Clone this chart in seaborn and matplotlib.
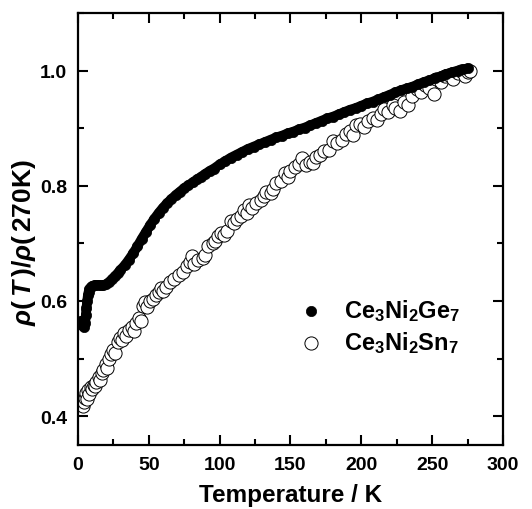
import seaborn as sns
import matplotlib.pyplot as plt
import pandas as pd
from matplotlib.ticker import MultipleLocator

ge_T = [2, 3, 4, 5, 5.5, 6, 6.5, 7, 7.5, 8, 9, 10, 12, 14, 16, 18, 20, 22, 24, 26,
        28, 30, 33, 36, 39, 42, 45, 48, 51, 54, 57, 60, 63, 66, 69, 72, 75, 78, 81,
        84, 87, 90, 93, 96, 100, 104, 108, 112, 116, 120, 124, 128, 132, 136, 140,
        144, 148, 152, 156, 160, 164, 168, 172, 176, 180, 184, 188, 192, 196, 200,
        204, 208, 212, 216, 220, 224, 228, 232, 236, 240, 244, 248, 252, 256, 260,
        264, 268, 272, 275]
ge_rho = [0.565, 0.558, 0.555, 0.562, 0.575, 0.588, 0.600, 0.610, 0.616, 0.620, 0.624,
          0.626, 0.628, 0.628, 0.627, 0.627, 0.629, 0.633, 0.638, 0.643, 0.648, 0.654,
          0.662, 0.672, 0.683, 0.695, 0.708, 0.720, 0.732, 0.743, 0.753, 0.762, 0.770,
          0.777, 0.784, 0.790, 0.796, 0.801, 0.806, 0.811, 0.816, 0.821, 0.826, 0.830,
          0.837, 0.843, 0.849, 0.854, 0.859, 0.864, 0.868, 0.872, 0.876, 0.880, 0.884,
          0.887, 0.891, 0.894, 0.898, 0.901, 0.905, 0.909, 0.913, 0.917, 0.920, 0.924,
          0.928, 0.932, 0.935, 0.939, 0.943, 0.946, 0.950, 0.954, 0.958, 0.962, 0.966,
          0.969, 0.972, 0.976, 0.980, 0.983, 0.987, 0.990, 0.994, 0.997, 1.000, 1.002,
          1.004]

# Ce3Ni2Sn7: sparser, noisier points
sn_T = [3.5, 4.5, 5, 5.5, 6.5, 7, 8, 9, 10, 11, 12, 13, 14.5, 15.5, 17, 18, 19.5, 20.5,
        22, 23.5, 25, 26, 28, 29.5, 31, 32.5, 34, 36, 38, 39.5, 41, 43, 44.5, 46, 47.5,
        49, 51, 53, 55, 57, 58.5, 60, 62, 65, 68, 71, 74, 77, 79, 80.5, 82, 85, 88, 90,
        92, 95, 97, 99, 101, 103, 105, 108, 110, 112, 115, 117, 119, 120.5, 123, 126,
        129, 131, 133, 136, 138, 140, 143, 146, 148, 150, 153, 156, 158, 161, 164, 166,
        168, 171, 174, 177, 180, 183, 186, 189, 192, 194, 196, 199, 202, 205, 208, 211,
        214, 216, 219, 222, 224, 227, 230, 233, 236, 239, 242, 245, 248, 251, 253, 256,
        259, 262, 265, 268, 270, 273, 275, 277]
sn_rho = [0.418, 0.425, 0.432, 0.440, 0.430, 0.445, 0.438, 0.450, 0.447, 0.455, 0.452,
          0.460, 0.468, 0.462, 0.475, 0.480, 0.490, 0.483, 0.500, 0.508, 0.515, 0.510,
          0.528, 0.536, 0.532, 0.545, 0.540, 0.550, 0.555, 0.548, 0.562, 0.570, 0.565,
          0.592, 0.598, 0.590, 0.600, 0.603, 0.610, 0.615, 0.622, 0.618, 0.625, 0.633,
          0.638, 0.645, 0.650, 0.660, 0.668, 0.678, 0.665, 0.672, 0.675, 0.680, 0.695,
          0.700, 0.705, 0.712, 0.718, 0.715, 0.722, 0.738, 0.735, 0.742, 0.748, 0.758,
          0.752, 0.766, 0.762, 0.770, 0.775, 0.782, 0.790, 0.788, 0.795, 0.805, 0.808,
          0.822, 0.815, 0.826, 0.832, 0.838, 0.848, 0.836, 0.842, 0.840, 0.850, 0.853,
          0.860, 0.862, 0.878, 0.875, 0.880, 0.890, 0.895, 0.888, 0.905, 0.908, 0.902,
          0.912, 0.918, 0.915, 0.925, 0.933, 0.928, 0.940, 0.935, 0.930, 0.945, 0.940,
          0.955, 0.968, 0.962, 0.975, 0.970, 0.960, 0.985, 0.980, 0.990, 0.992, 0.985,
          0.995, 1.000, 0.990, 0.998, 1.000]

ge = pd.DataFrame({'T': ge_T, 'rho': ge_rho})
sn = pd.DataFrame({'T': sn_T, 'rho': sn_rho})

sns.set_style('ticks')
plt.rcParams['font.family'] = ['Liberation Sans', 'DejaVu Sans']
plt.rcParams['font.weight'] = 'bold'
plt.rcParams['mathtext.fontset'] = 'custom'
plt.rcParams['mathtext.rm'] = 'Liberation Sans:bold'
plt.rcParams['mathtext.bf'] = 'Liberation Sans:bold'
plt.rcParams['mathtext.it'] = 'Liberation Sans:bold:italic'

fig = plt.figure(figsize=(5.32, 5.10), dpi=100)
ax = fig.add_axes([0.1466, 0.1255, 0.7989, 0.8471])

# the Ge data are so dense that the points merge into a band
sns.lineplot(data=ge, x='T', y='rho', ax=ax, color='black', linewidth=7,
             legend=False, zorder=3)
sns.scatterplot(data=ge, x='T', y='rho', ax=ax, color='black', s=55,
                edgecolor='black', linewidth=0.5, label=r'$\mathrm{Ce_3Ni_2Ge_7}$', zorder=3)
sns.scatterplot(data=sn, x='T', y='rho', ax=ax, facecolor='white', s=90,
                edgecolor='black', linewidth=0.7, label=r'$\mathrm{Ce_3Ni_2Sn_7}$', zorder=2)

ax.set_xlim(0, 300)
ax.set_ylim(0.35, 1.1)
ax.xaxis.set_major_locator(MultipleLocator(50))
ax.xaxis.set_minor_locator(MultipleLocator(25))
ax.yaxis.set_major_locator(MultipleLocator(0.2))
ax.yaxis.set_minor_locator(MultipleLocator(0.1))
ax.tick_params(which='both', direction='in', top=True, right=True, width=1.5,
               color='black', labelcolor='black', labelsize=14, pad=8)
ax.tick_params(which='major', length=7)
ax.tick_params(which='minor', length=4)
for sp in ax.spines.values():
    sp.set_linewidth(1.6)
    sp.set_color('black')

ax.set_xlabel('Temperature / K', fontsize=17.5, fontweight='bold', labelpad=7,
              color='black')
ax.set_ylabel(r'$\rho(\,\mathit{T}\,)/\rho(\,270\mathrm{K})$', fontsize=19,
              color='black')
ax.yaxis.set_label_coords(-0.094, 0.47)

leg = ax.legend(loc='center left', bbox_to_anchor=(0.47, 0.275), frameon=False,
                fontsize=17, handlelength=1.0, handletextpad=0.9, labelspacing=0.25)
for t in leg.get_texts():
    t.set_color('black')

fig.savefig('out.png', dpi=100)
